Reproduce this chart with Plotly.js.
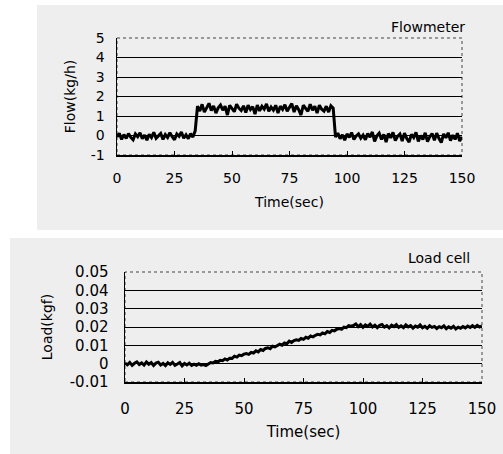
<!DOCTYPE html>
<html>
<head>
<meta charset="utf-8">
<script src="https://cdn.plot.ly/plotly-3.0.1.min.js"></script>
<style>html,body{margin:0;padding:0;background:#fff;}#chart{width:503px;height:454px;}</style>
</head>
<body>
<div id="chart"></div>
<script>
// Flow (kg/h), sampled every 1 s from t = 0 to 150 s
const flowValues = [
  -0.08,0.12,-0.2,0.05,-0.15,0.1,-0.1,-0.22,0.08,-0.06,
  0.14,-0.16,0.02,-0.24,0.06,-0.1,0.16,-0.14,-0.02,0.1,
  -0.2,0.05,-0.1,0.14,-0.06,-0.22,0.08,-0.04,0.18,-0.14,
  0.04,-0.16,0.1,-0.08,0.24,
  1.5,1.25,1.6,1.2,1.45,1.65,1.28,1.52,1.15,1.42,
  1.56,1.3,1.5,1.05,1.55,1.35,1.22,1.6,1.4,1.28,
  1.52,1.18,1.55,1.33,1.48,1.1,1.56,1.26,1.5,1.35,
  1.62,1.24,1.46,1.3,1.55,1.15,1.5,1.34,1.58,1.25,
  1.46,1.64,1.2,1.52,1.32,1.05,1.55,1.38,1.24,1.6,
  1.3,1.5,1.15,1.55,1.35,1.25,1.5,1.2,1.52,1.4,
  -0.08,0.12,-0.16,0.04,-0.24,0.08,-0.1,0.15,-0.2,-0.02,
  0.08,-0.14,0.02,-0.22,0.1,-0.08,0.18,-0.3,-0.02,0.12,
  -0.2,0.06,-0.34,0.1,-0.12,0.16,-0.26,-0.04,0.08,-0.28,
  0.12,-0.16,-0.34,0.06,-0.1,0.16,-0.3,0.0,-0.2,0.14,
  -0.32,-0.06,0.1,-0.24,0.12,-0.16,-0.36,0.08,-0.12,0.14,
  -0.26,0.02,-0.2,0.12,-0.28,-0.06
];
// Load (kgf), sampled every 1 s from t = 0 to 150 s
const loadValues = [
  0.0003,-0.0006,0.0007,-0.0009,0.0002,0.001,-0.0005,0.0004,-0.0008,0.0009,
  -0.0003,0.0006,-0.001,0.0003,0.0008,-0.0007,0.0001,-0.0011,0.0005,-0.0004,
  0.0007,-0.0009,-0.0002,0.0006,-0.0012,0.0001,-0.0007,0.0003,-0.001,-0.0003,
  -0.0009,0.0,-0.0008,-0.0005,-0.001,
  0.0,0.0006,0.0004,0.0013,0.001,0.0018,0.0016,0.0026,0.002,0.003,
  0.0029,0.0041,0.0036,0.0047,0.0044,0.0052,0.0055,0.0051,0.0062,0.0058,
  0.007,0.0064,0.0077,0.0072,0.0083,0.0087,0.0082,0.0095,0.0091,0.0099,
  0.0106,0.0101,0.0113,0.0109,0.0123,0.0116,0.0126,0.013,0.0127,0.0138,
  0.0133,0.0144,0.0139,0.0151,0.0146,0.0155,0.016,0.0157,0.0168,0.0163,
  0.0175,0.017,0.0182,0.0179,0.0188,0.0192,0.0187,0.0199,0.0196,0.0207,
  0.0204,
  0.0208,0.0217,0.0202,0.0213,0.0198,0.0211,0.0203,0.0215,0.02,0.021,
  0.0197,0.0209,0.0214,0.0199,0.0207,0.0195,0.021,0.0202,0.0213,0.0198,
  0.0206,0.0196,0.0212,0.0201,0.0208,0.0194,0.0205,0.0199,0.0211,0.0196,
  0.0204,0.0193,0.0207,0.0198,0.0203,0.0192,0.0202,0.0196,0.0206,0.0191,
  0.0201,0.0194,0.0204,0.0189,0.0199,0.0193,0.0202,0.0195,0.0205,0.0197,
  0.0207,0.0198,0.0209,0.02,0.0206
];
const timeTicks = [0,25,50,75,100,125,150];
const timeTickLabels = ["0","25","50","75","100","125","150"];
const flowTicks = [-1,0,1,2,3,4,5];
const flowTickLabels = ["-1","0","1","2","3","4","5"];
const loadTicks = [-0.01,0,0.01,0.02,0.03,0.04,0.05];
const loadTickLabels = ["-0.01","0","0.01","0.02","0.03","0.04","0.05"];

const FONT = "DejaVu Sans, Liberation Sans, sans-serif";
const W = 503, H = 454;
const px = v => v / W, py = v => 1 - v / H;

const traces = [
  {type:'scatter', mode:'lines', x0:0, dx:1, y:flowValues, xaxis:'x', yaxis:'y',
   line:{color:'#000', width:3}, hoverinfo:'skip', showlegend:false},
  {type:'scatter', mode:'lines', x0:0, dx:1, y:loadValues, xaxis:'x2', yaxis:'y2',
   line:{color:'#000', width:3}, hoverinfo:'skip', showlegend:false}
];

const commonX = {
  range:[0,150], tickvals:timeTicks, ticktext:timeTickLabels,
  showgrid:false, zeroline:false, showline:true, linecolor:'#000', linewidth:1.5,
  ticks:'inside', ticklen:4, tickcolor:'#000', tickwidth:1,
  tickfont:{family:FONT, size:14, color:'#000'}, fixedrange:true
};
const commonY = {
  showgrid:true, gridcolor:'#000', gridwidth:1, zeroline:false,
  showline:true, linecolor:'#000', linewidth:1.5, ticks:'',
  tickfont:{family:FONT, size:14, color:'#000'}, fixedrange:true
};

const layout = {
  width:W, height:H, margin:{l:0,r:0,t:0,b:0},
  paper_bgcolor:'#ffffff', plot_bgcolor:'rgba(0,0,0,0)',
  showlegend:false,
  xaxis: Object.assign({}, commonX, {
    domain:[px(117), px(462)], anchor:'y', ticklabelstandoff:10,
    title:{text:'Time(sec)', font:{family:FONT, size:14, color:'#000'}, standoff:12}
  }),
  yaxis: Object.assign({}, commonY, {
    domain:[py(155), py(38)], anchor:'x', range:[-1,5],
    tickvals:flowTicks, ticktext:flowTickLabels, ticklabelstandoff:8,
    title:{text:'Flow(kg/h)', font:{family:FONT, size:14, color:'#000'}, standoff:12}
  }),
  xaxis2: Object.assign({}, commonX, {
    domain:[px(125), px(482)], anchor:'y2', ticklabelstandoff:12,
    tickfont:{family:FONT, size:15, color:'#000'},
    title:{text:'Time(sec)', font:{family:FONT, size:15, color:'#000'}, standoff:10}
  }),
  yaxis2: Object.assign({}, commonY, {
    domain:[py(382), py(272)], anchor:'x2', range:[-0.01,0.05],
    tickvals:loadTicks, ticktext:loadTickLabels, ticklabelstandoff:12,
    tickfont:{family:FONT, size:15, color:'#000'},
    title:{text:'Load(kgf)', font:{family:FONT, size:14, color:'#000'}, standoff:14}
  }),
  shapes:[
    {type:'rect', xref:'paper', yref:'paper', x0:px(37), x1:1, y0:py(230), y1:py(5),
     fillcolor:'#eeeeee', line:{width:0}, layer:'below'},
    {type:'rect', xref:'paper', yref:'paper', x0:px(10), x1:1, y0:0, y1:py(238),
     fillcolor:'#eeeeee', line:{width:0}, layer:'below'},
    {type:'rect', xref:'x domain', yref:'y domain', x0:0, x1:1, y0:0, y1:1,
     line:{color:'#444', width:1, dash:'dot'}, layer:'below'},
    {type:'rect', xref:'x2 domain', yref:'y2 domain', x0:0, x1:1, y0:0, y1:1,
     line:{color:'#444', width:1, dash:'dot'}, layer:'below'}
  ],
  annotations:[
    {text:'Flowmeter', xref:'paper', yref:'paper', x:px(467), y:py(27),
     xanchor:'right', yanchor:'middle', showarrow:false,
     font:{family:FONT, size:14, color:'#000'}},
    {text:'Load cell', xref:'paper', yref:'paper', x:px(472), y:py(258),
     xanchor:'right', yanchor:'middle', showarrow:false,
     font:{family:FONT, size:14, color:'#000'}}
  ]
};

Plotly.newPlot('chart', traces, layout, {displayModeBar:false, staticPlot:true});
</script>
</body>
</html>
